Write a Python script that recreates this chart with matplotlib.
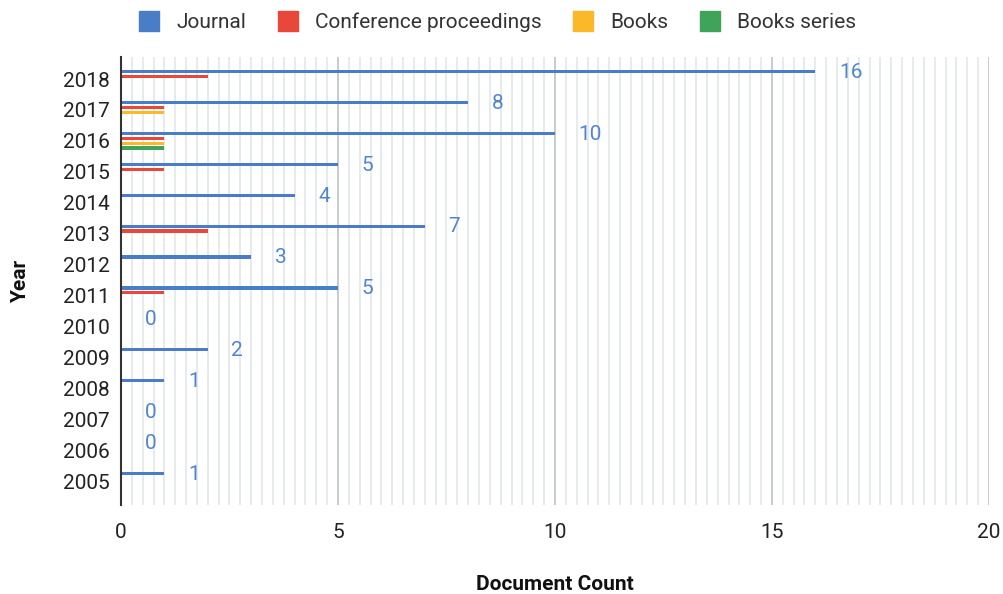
import matplotlib
matplotlib.use("Agg")
import matplotlib.pyplot as plt
from matplotlib.lines import Line2D
import numpy as np

# document counts per publication type, newest year first
years = [2018, 2017, 2016, 2015, 2014, 2013, 2012, 2011, 2010, 2009, 2008, 2007, 2006, 2005]
journal = [16, 8, 10, 5, 4, 7, 3, 5, 0, 2, 1, 0, 0, 1]
conference = [2, 1, 1, 1, 0, 2, 0, 1, 0, 0, 0, 0, 0, 0]
books = [0, 1, 1, 0, 0, 0, 0, 0, 0, 0, 0, 0, 0, 0]
book_series = [0, 0, 1, 0, 0, 0, 0, 0, 0, 0, 0, 0, 0, 0]

series_names = ["Journal", "Conference proceedings", "Books", "Books series"]
colors = ["#4a7dc8", "#e8473a", "#fbb829", "#3fa35a"]

plt.rcParams["font.family"] = ["Roboto", "DejaVu Sans"]
FS = 15

fig = plt.figure(figsize=(10.04, 5.94), dpi=100)
ax = fig.add_axes([0.1205, 0.1498, 0.8645, 0.7542])

# one row per year, 2018 on top (axis is inverted)
ypos = np.arange(len(years))
offsets = [-0.25, -0.09, 0.07, 0.23]
for vals, off, c in zip([journal, conference, books, book_series], offsets, colors):
    ax.barh(ypos + off, vals, height=0.1, color=c, zorder=3)

# value labels for the journal series
for y, v in zip(ypos, journal):
    ax.annotate(str(v), (v, y - 0.22), xytext=(17, 0), textcoords="offset points",
                ha="left", va="center", color="#4f86d0", fontsize=FS)

ax.set_xlim(0, 20)
ax.set_ylim(len(years) - 1 + 0.76, -0.71)
ax.set_yticks(ypos)
ax.set_yticklabels([str(y) for y in years])

ax.set_xticks([0, 5, 10, 15, 20])
ax.set_xticks(np.arange(0, 20.01, 0.25), minor=True)
ax.grid(axis="x", which="minor", color="#e4e7ea", linewidth=1.2, zorder=0)
ax.grid(axis="x", which="major", color="#c4c7ca", linewidth=1.3, zorder=0)
ax.tick_params(axis="both", which="both", length=0, labelsize=FS, labelcolor="#222222")
ax.tick_params(axis="y", pad=8)
ax.tick_params(axis="x", pad=13)

for side in ["top", "right", "bottom"]:
    ax.spines[side].set_visible(False)
ax.spines["left"].set_color("#333333")
ax.spines["left"].set_linewidth(1.5)
ax.spines["left"].set_zorder(4)

ax.set_xlabel("Document Count", fontsize=FS, fontweight="bold", labelpad=24, color="#111111")
ax.set_ylabel("Year", fontsize=FS, fontweight="bold", labelpad=24, color="#111111")

handles = [Line2D([], [], marker="s", linestyle="none", markersize=15,
                  markerfacecolor=c, markeredgecolor=c) for c in colors]
fig.legend(handles, series_names, loc="center", bbox_to_anchor=(0.49, 0.962),
           ncol=4, frameon=False, fontsize=FS, handletextpad=0.3,
           columnspacing=1.0, labelcolor="#333333")

fig.savefig("out.png", dpi=100)
